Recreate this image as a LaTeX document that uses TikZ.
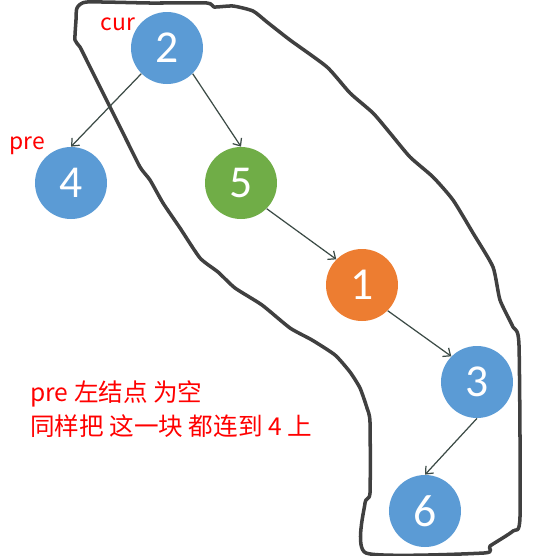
\documentclass[tikz,border=0pt]{standalone}
\usepackage{fontspec}
\newfontfamily\cjk{Noto Sans CJK SC}
\newfontfamily\digitfont{Carlito}
\definecolor{nodeblue}{RGB}{91, 155, 213}
\definecolor{nodegreen}{RGB}{112, 173, 71}
\definecolor{nodeorange}{RGB}{237, 125, 49}
\definecolor{edgegray}{RGB}{60, 75, 70}
\definecolor{penblack}{RGB}{64, 64, 64}
\usetikzlibrary{arrows.meta, positioning}

\begin{document}
\begin{tikzpicture}[x=0.02cm, y=-0.02cm,
    treenode/.style={circle, minimum size=72*0.02cm, inner sep=0pt, text=white,
        font=\digitfont\fontsize{26}{26}\selectfont},
    link/.style={draw=edgegray, line width=0.7pt, -{Straight Barb[length=3.5pt, width=6pt]}},
    note/.style={text=red, inner sep=0pt, font=\cjk\fontsize{13}{19}\selectfont},
    outline/.style={draw=penblack, line width=2pt, line join=round}]
    \useasboundingbox (0,0) rectangle (534,556);

    % Hand-drawn loop round the right branch
    \draw[outline] plot[smooth cycle, tension=0.35] coordinates {
        (77,8) (87,2) (150,3) (207,3) (214,7) (233,6) (253,11) (267,22)
        (290,40) (327,67) (350,93) (373,113) (390,133) (410,157) (433,177)
        (453,200) (473,233) (493,267) (500,300) (513,327) (519,345)
        (520,517) (513,531) (490,546) (484,553) (366,553) (365,503)
        (370,493) (370,422) (367,408) (360,388) (350,372) (335,355)
        (312,340) (290,328) (262,305) (235,288) (218,272) (200,258)
        (180,228) (163,203) (150,180) (140,167) (123,133) (110,107)
        (100,87) (90,67) (80,47) (75,40) (76,20)};

    % Tree nodes
    \node[treenode, fill=nodeblue] (n2) at (167,48) {2};
    \node[treenode, fill=nodeblue] (n4) at (71,183) {4};
    \node[treenode, fill=nodegreen] (n5) at (241,183) {5};
    \node[treenode, fill=nodeorange] (n1) at (362,285) {1};
    \node[treenode, fill=nodeblue] (n3) at (477,382) {3};
    \node[treenode, fill=nodeblue] (n6) at (425,511) {6};

    % Links
    \draw[link] (n2.south west) -- (n4.north);
    \draw[link] (n2.south east) -- (n5.north);
    \draw[link] (n5.south east) -- (n1.north west);
    \draw[link] (n1.south east) -- (n3.north west);
    \draw[link] (n3.south) -- (n6.north);

    % Labels
    \node[note] (curlabel) at (118,24) {cur};
    \node[note] (prelabel) at (27,146) {pre};
    \node[note, anchor=west, align=left, font=\cjk\fontsize{14}{19}\selectfont] (remark) at (30,409)
        {pre 左结点 为空\\同样把 这一块 都连到 4 上};
\end{tikzpicture}
\end{document}
